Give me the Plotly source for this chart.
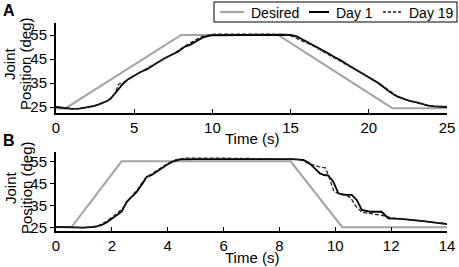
import plotly.graph_objects as go

# ---------------- data ----------------
# Panel A
a_des_t = [0, 0.6, 8.0, 14.2, 21.5, 25]
a_des_v = [24.4, 24.4, 55, 55, 24.5, 24.5]

a_d1_t = [0, 0.3, 0.6, 1.0, 1.5, 1.8, 2.1, 2.4, 2.7, 3.0, 3.3, 3.5, 3.7, 3.9, 4.1,
          4.3, 4.6, 5.0, 5.4, 5.8, 6.2, 6.6, 7.0, 7.4, 7.8, 8.2, 8.6, 9.0, 9.4, 10,
          11, 12, 13, 14, 14.6, 15.0, 15.4, 15.8, 16.2, 16.6, 17.0, 17.4, 17.8, 18.2,
          18.6, 19.0, 19.4, 19.8, 20.2, 20.6, 21.0, 21.4, 21.8, 22.2, 22.6, 23.0, 23.4,
          23.8, 24.2, 24.6, 25.0]
a_d1_v = [25.0, 24.8, 24.3, 24.2, 24.3, 24.6, 25.0, 25.4, 26.0, 26.8, 27.6, 28.5, 30.0, 31.8, 33.0,
          34.8, 36.5, 38.2, 39.6, 40.6, 42.4, 44.0, 45.5, 46.8, 48.0, 50.0, 51.0, 52.5, 54.0, 54.9,
          55.0, 55.1, 54.9, 55.0, 55.1, 55.0, 54.4, 53.0, 51.6, 50.5, 49.0, 47.4, 45.8, 44.5,
          42.8, 41.2, 39.6, 38.2, 36.6, 35.0, 33.0, 31.0, 29.4, 28.4, 27.6, 27.0, 26.2,
          25.6, 25.3, 25.1, 25.0]

a_d19_t = [0, 0.5, 1.0, 1.5, 2.0, 2.5, 3.0, 3.4, 3.8, 4.0, 4.3, 4.7, 5.2, 5.8, 6.4,
           7.0, 7.6, 8.2, 8.8, 9.3, 10, 11, 12, 13, 14, 14.6, 15.0, 15.4, 15.8, 16.4,
           17.0, 17.6, 18.2, 18.8, 19.4, 20.0, 20.6, 21.2, 21.8, 22.4, 23.0, 23.6, 24.2, 25.0]
a_d19_v = [25.2, 24.6, 24.3, 24.4, 24.8, 25.6, 26.6, 28.0, 31.0, 34.5, 35.2, 37.0, 38.8, 40.8, 43.2,
           45.4, 47.6, 50.2, 52.4, 54.3, 55.3, 55.4, 55.3, 55.4, 55.3, 55.2, 54.7, 53.6, 52.4, 50.6,
           48.4, 46.2, 44.2, 42.0, 39.8, 37.6, 35.2, 32.4, 29.6, 28.0, 26.8, 25.9, 25.3, 25.1]

# Panel B
b_des_t = [0, 0.55, 2.35, 8.4, 10.25, 14]
b_des_v = [25.2, 25.2, 55, 55, 25.2, 25.2]

b_d1_t = [0, 0.5, 1.0, 1.4, 1.64, 1.81, 2.0, 2.17, 2.35, 2.53, 2.7, 2.89, 3.1, 3.25, 3.43,
          3.6, 3.8, 3.96, 4.2, 4.44, 5, 6, 7, 8, 8.4, 8.86, 9.05, 9.21, 9.45, 9.6, 9.75,
          9.93, 10.11, 10.29, 10.59, 10.77, 10.95, 11.24, 11.66, 11.9, 12.44, 13.15, 14]
b_d1_v = [25.4, 25.2, 25.0, 25.4, 26.2, 27.4, 29.0, 30.7, 32.2, 36.7, 39.0, 41.2, 45.0, 48.0, 48.8,
          50.3, 52.2, 53.3, 55.0, 55.9, 56.0, 56.0, 56.1, 56.0, 56.0, 55.6, 54.3, 52.5, 49.5, 48.8, 48.5,
          45.8, 40.5, 39.8, 39.8, 37.5, 33.0, 32.2, 32.2, 29.2, 28.9, 28.0, 26.6]

b_d19_t = [0, 1.0, 1.5, 1.8, 2.2, 2.4, 2.6, 2.9, 3.2, 3.4, 3.7, 4.0, 4.3, 4.6, 6, 8,
           8.6, 8.8, 9.1, 9.4, 9.65, 9.8, 9.95, 10.1, 10.35, 10.55, 10.75, 10.95, 11.3,
           11.7, 12.0, 12.5, 13.2, 14]
b_d19_v = [25.4, 25.0, 25.8, 27.8, 31.5, 34.0, 37.5, 42.0, 47.5, 49.2, 51.5, 54.0, 55.8, 56.4, 56.4, 56.3,
           56.0, 55.4, 53.8, 52.6, 52.0, 47.0, 41.5, 40.5, 40.0, 38.5, 34.5, 32.0, 31.4,
           30.5, 29.5, 28.8, 28.0, 26.8]

a_xticks = [0, 5, 10, 15, 20, 25]
b_xticks = [0, 2, 4, 6, 8, 10, 12, 14]
yticks = [25, 35, 45, 55]
series_names = ["Desired", "Day 1", "Day 19"]

GRAY = "#a3a3a3"
FONT = "Liberation Sans, Arial, sans-serif"
W, H = 459, 267
ML, MR, MT, MB = 56, 12, 23, 36
PW, PH = W - ML - MR, H - MT - MB

def px_x(px):  # pixel -> paper x
    return (px - ML) / PW

def px_y(py):  # pixel -> paper y
    return (H - MB - py) / PH

styles = [dict(color=GRAY, width=2),
          dict(color="black", width=1.8),
          dict(color="#222222", width=1.3, dash="4px,2px")]

fig = go.Figure()

def add_panel(xa, ya, series):
    for (t, v), name, st in zip(series, series_names, styles):
        fig.add_trace(go.Scatter(x=t, y=v, mode="lines", name=name, line=st,
                                 xaxis=xa, yaxis=ya, showlegend=False))

add_panel("x", "y", [(a_des_t, a_des_v), (a_d1_t, a_d1_v), (a_d19_t, a_d19_v)])
add_panel("x2", "y2", [(b_des_t, b_des_v), (b_d1_t, b_d1_v), (b_d19_t, b_d19_v)])

common = dict(showline=True, linecolor="black", linewidth=2, showgrid=False,
              zeroline=False, ticklen=4, tickcolor="black", tickwidth=1,
              tickfont=dict(family=FONT, size=15, color="black"))
xcommon = dict(ticks="inside", **common)
ycommon = dict(ticks="outside", **common)

# manual legend (box, sample lines, labels)
shapes = [dict(type="rect", xref="paper", yref="paper",
               x0=px_x(214), x1=px_x(457), y0=px_y(22), y1=px_y(2),
               line=dict(color="black", width=1), fillcolor="white", layer="above")]
leg_line_x = [(220, 244), (309, 329), (383, 402)]
leg_text_x = [249, 334, 407]
annotations = []
for (x0, x1), tx, name, st in zip(leg_line_x, leg_text_x, series_names, styles):
    shapes.append(dict(type="line", xref="paper", yref="paper",
                       x0=px_x(x0), x1=px_x(x1), y0=px_y(12), y1=px_y(12),
                       line=dict(color=st["color"], width=st["width"] + 0.2,
                                 dash="3px,2px" if "dash" in st else "solid"),
                       layer="above"))
    annotations.append(dict(text=name, x=px_x(tx), y=px_y(12.5), xref="paper", yref="paper",
                            xanchor="left", yanchor="middle", showarrow=False,
                            font=dict(size=14, family=FONT)))

def label(text, px, py, size=15, angle=0):
    return dict(text=text, x=px_x(px), y=px_y(py), xref="paper", yref="paper",
                xanchor="center", yanchor="middle", textangle=angle,
                showarrow=False, font=dict(size=size, family=FONT))

annotations += [
    label("<b>A</b>", 9, 10, size=16),
    label("<b>B</b>", 9, 140, size=16),
    label("Joint", 10, 64, angle=-90),
    label("Position (deg)", 26, 64, angle=-90),
    label("Joint", 10, 188, angle=-90),
    label("Position (deg)", 26, 188, angle=-90),
    label("Time (s)", 252, 138),
    label("Time (s)", 252, 257),
]

fig.update_layout(
    width=W, height=H,
    margin=dict(l=ML, r=MR, t=MT, b=MB, autoexpand=False),
    paper_bgcolor="white", plot_bgcolor="white",
    showlegend=False,
    font=dict(family=FONT, size=14, color="black"),
    xaxis=dict(domain=[0, 1], range=[0, 25], tickvals=a_xticks, anchor="y", **xcommon),
    yaxis=dict(domain=[px_y(113), 1.0], range=[22.5, 60], tickvals=yticks, anchor="x", **ycommon),
    xaxis2=dict(domain=[0, 1], range=[0, 14], tickvals=b_xticks, anchor="y2", **xcommon),
    yaxis2=dict(domain=[0, px_y(152)], range=[23.5, 59.2], tickvals=yticks, anchor="x2", **ycommon),
    shapes=shapes,
    annotations=annotations,
)

fig.write_html("out.html", config={"displayModeBar": False},
               post_script="document.body.style.margin='0px';document.body.style.overflow='hidden';")
